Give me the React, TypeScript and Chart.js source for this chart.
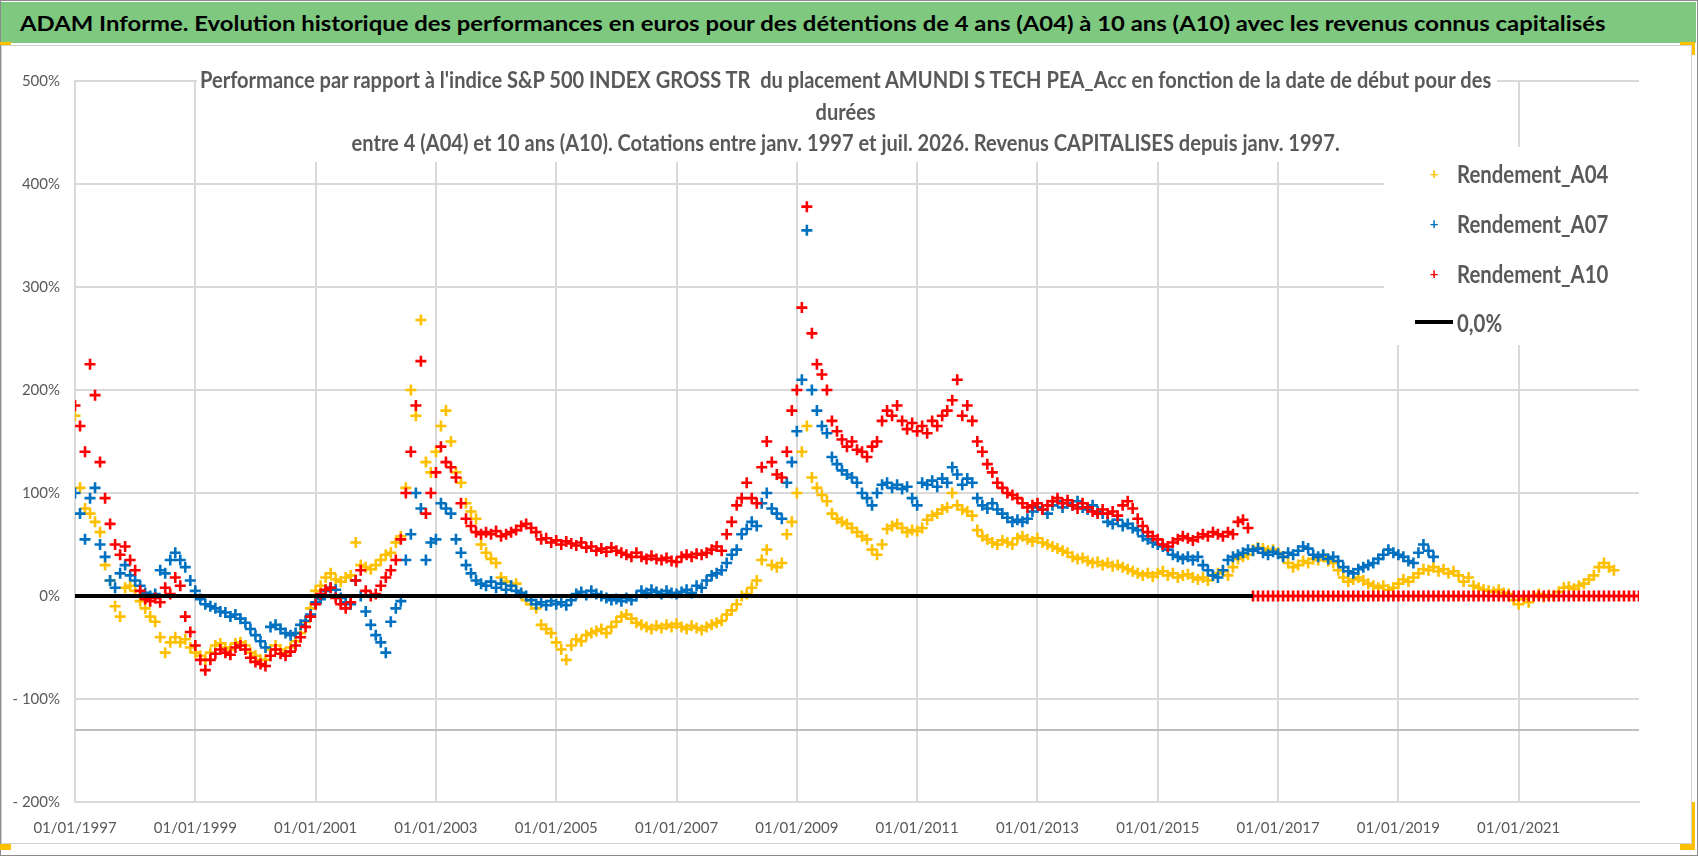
import { useEffect, useLayoutEffect, useRef } from "react";
import { Chart, registerables } from "chart.js";

Chart.register(...registerables);

// monthly observations, first one = janvier 1997
const FIRST_YEAR = 1997;
const tickYears = [1997, 1999, 2001, 2003, 2005, 2007, 2009, 2011, 2013, 2015, 2017, 2019, 2021];
const yTicks = [-200, -100, 0, 100, 200, 300, 400, 500];

const rendementA04 = [
  175, 105, 85, 80, 72, 62, 30, 15, -10, -20, 8, 10,
  5, -5, -12, -20, -25, -40, -55, -45, -40, -45, -42, -50,
  -55, -58, -62, -55, -48, -46, -50, -52, -46, -45, -48, -55,
  -58, -62, -62, -52, -48, -52, -55, -50, -44, -36, -25, -12,
  5, 10, 18, 22, 16, 14, 18, 20, 52, 30, 28, 26,
  30, 35, 40, 42, 52, 58, 105, 200, 175, 268, 130, 120,
  140, 165, 180, 150, 120, 110, 90, 82, 75, 50, 42, 36,
  32, 18, 14, 10, 12, 2, -4, -8, -12, -28, -32, -36,
  -45, -52, -62, -48, -42, -44, -38, -36, -34, -32, -36, -30,
  -25, -20, -18, -22, -26, -28, -30, -32, -29, -31, -28, -30,
  -27, -30, -32, -29, -31, -33, -30, -28, -26, -24, -18, -14,
  -8, 0, 2, 8, 15, 35, 45, 30, 28, 32, 60, 72,
  100, 140, 165, 115, 105, 98, 92, 80, 75, 72, 70, 66,
  62, 58, 55, 45, 40, 50, 65, 68, 70, 66, 62, 64,
  63, 66, 74, 78, 80, 84, 86, 100, 88, 84, 82, 78,
  64, 58, 55, 52, 50, 54, 52, 50, 56, 58, 55, 53,
  56, 52, 50, 48, 46, 44, 42, 38, 36, 37, 34, 32,
  33, 30, 32, 29, 30, 28, 26, 24, 22, 20, 22, 19,
  22, 24, 20, 22, 18, 20, 21, 18, 16, 18, 15, 20,
  22, 24, 20, 28, 36, 38, 40, 45, 47, 46, 44, 45,
  42, 38, 32, 28, 30, 34, 32, 36, 35, 38, 34, 32,
  25, 18, 14, 16, 18, 15, 12, 10, 8, 10, 6, 8,
  12, 16, 14, 18, 22, 26, 25, 28, 24, 26, 22, 24,
  20, 14, 18, 10, 8, 6, 5, 4, 6, 3, 2, -4,
  -8, -3, -6, 0, 2, -1, 1, 0, 4, 8, 9, 7,
  10, 12, 16, 20, 28, 32, 28, 25,
];

const rendementA07 = [
  100, 80, 55, 95, 105, 50, 38, 15, 8, 22, 30, 20,
  15, 10, 3, 0, 2, 25, 22, 35, 42, 35, 28, 15,
  5, -3, -8, -10, -12, -15, -16, -20, -18, -22, -26, -32,
  -38, -44, -50, -30, -28, -32, -36, -38, -36, -28, -24, -18,
  -6, -3, 5, 8, 6, -2, -6, -8, 15, 0, -15, -28,
  -38, -45, -55, -25, -12, -5, 35, 60, 100, 85, 35, 52,
  55, 90, 85, 80, 55, 42, 30, 22, 15, 12, 10, 14,
  8, 12, 6, 10, 5, 3, 0, -4, -8, -6, -9, -5,
  -8, -6, -9, -4, 2, 4, 1, 5, 2, 0, -2, -4,
  -3, -5, -2, -4, 0, 5, 3, 6, 4, 2, 5, 3,
  2, 4, 6, 3, 10, 8, 15, 20, 22, 25, 32, 40,
  45, 60, 65, 72, 68, 90, 100, 85, 80, 75, 110, 130,
  160, 210, 355, 200, 180, 165, 158, 135, 128, 122, 118, 115,
  110, 100, 95, 88, 100, 108, 110, 105, 108, 104, 106, 95,
  88, 110, 108, 112, 106, 114, 110, 125, 118, 108, 114, 110,
  95, 88, 85, 90, 84, 80, 76, 72, 74, 72, 75, 82,
  86, 84, 80, 88, 92, 86, 90, 88, 92, 86, 84, 88,
  82, 80, 72, 70, 74, 68, 70, 66, 64, 58, 55, 52,
  50, 48, 45, 40, 38, 36, 38, 35, 38, 30, 25, 20,
  18, 25, 35, 38, 40, 42, 45, 44, 46, 42, 40, 43,
  41, 38, 42, 40, 44, 48, 46, 40, 38, 40, 36, 38,
  34, 28, 24, 22, 26, 28, 30, 32, 36, 40, 45, 42,
  40, 38, 34, 32, 42, 50, 44, 38,
];

const rendementA10 = [
  185, 165, 140, 225, 195, 130, 95, 70, 50, 40, 48, 35,
  25, 5, -3, -5, -2, -6, 8, 2, 18, 10, -20, -35,
  -48, -62, -72, -62, -56, -52, -55, -57, -50, -48, -52, -60,
  -64, -66, -68, -58, -52, -56, -58, -54, -48, -40, -30, -20,
  -8, 2, 6, 8, -2, -8, -12, -6, 15, 25, 5, 0,
  2, 10, 18, 25, 35, 55, 100, 140, 185, 228, 80, 100,
  120, 145, 130, 125, 115, 90, 75, 68, 62, 60, 62, 60,
  63, 58, 60, 62, 64, 68, 70, 66, 62, 55, 56, 52,
  54, 50, 53, 51, 49, 52, 47, 48, 44, 46, 43, 47,
  44, 42, 40, 38, 42, 38, 36, 39, 36, 35, 37, 34,
  33, 38, 40, 38, 41, 40, 42, 45, 48, 44, 60, 72,
  88, 95, 110, 95, 90, 125, 150, 130, 118, 115, 140, 180,
  200, 280, 378, 255, 225, 215, 200, 170, 160, 152, 145, 150,
  142, 140, 135, 145, 150, 170, 180, 175, 185, 170, 162, 168,
  160, 165, 158, 170, 165, 175, 180, 190, 210, 175, 185, 170,
  150, 140, 128, 120, 110, 105, 100, 98, 95, 90, 86, 88,
  90, 84, 88, 92, 95, 90, 93, 88, 85, 90, 86, 82,
  80, 84, 80, 82, 78, 88, 92, 85, 75, 68, 62, 58,
  55, 50, 48, 52, 55, 58, 56, 54, 57, 60, 58, 62,
  60, 58, 62, 60, 72, 74, 66, 0, 0, 0, 0, 0,
  0, 0, 0, 0, 0, 0, 0, 0, 0, 0, 0, 0,
  0, 0, 0, 0, 0, 0, 0, 0, 0, 0, 0, 0,
  0, 0, 0, 0, 0, 0, 0, 0, 0, 0, 0, 0,
  0, 0, 0, 0, 0, 0, 0, 0, 0, 0, 0, 0,
  0, 0, 0, 0, 0, 0, 0, 0, 0, 0, 0, 0,
  0, 0, 0, 0, 0, 0, 0, 0, 0, 0, 0, 0,
  0,
];

// ligne 0,0% (s'arrete avec la serie A10) et ligne grise basse
const zeroLineYears = [1997, 2016.58];
const lowerLineLevel = -130;

const FONT = "Lato, 'Open Sans', sans-serif";
const GREY = "#595959";

const headerText =
  "ADAM Informe. Evolution historique des performances en euros pour des détentions de 4 ans (A04) à 10 ans (A10) avec les revenus connus capitalisés";
const titleLines = [
  "Performance par rapport à l'indice S&P 500 INDEX GROSS TR  du placement AMUNDI S TECH PEA_Acc en fonction de la date de début pour des",
  "durées",
  "entre 4 (A04) et 10 ans (A10). Cotations entre janv. 1997 et juil. 2026. Revenus CAPITALISES depuis janv. 1997.",
];
const legendItems = [
  { label: "Rendement_A04", color: "#FFC000" },
  { label: "Rendement_A07", color: "#0070C0" },
  { label: "Rendement_A10", color: "#FF0000" },
];
const zeroLegendLabel = "0,0%";

const toPoints = (values: number[]) =>
  values.map((v, i) => ({ x: FIRST_YEAR + i / 12, y: v }));

// fonds blancs du titre et de la legende (comme dans Excel, ils cachent la grille)
const boxesPlugin = {
  id: "excelBoxes",
  beforeDatasetsDraw(chart: any) {
    const c = chart.ctx;
    c.save();
    c.fillStyle = "#ffffff";
    c.fillRect(197, 62, 1300, 100);
    c.fillRect(1384, 147, 262, 198);
    c.restore();
  },
};

// resserre horizontalement des textes (Calibri absente) : le premier element
// doit prendre la largeur voulue, les autres recoivent le meme facteur
function useFitWidth(target: number) {
  const ref = useRef<HTMLDivElement>(null);
  useLayoutEffect(() => {
    const fit = () => {
      const root = ref.current;
      if (!root) return;
      const items = Array.from(root.querySelectorAll<HTMLElement>(".fit"));
      if (!items.length) return;
      items.forEach((el) => (el.style.transform = "none"));
      const w = items[0].offsetWidth;
      if (w > 0) items.forEach((el) => (el.style.transform = `scaleX(${target / w})`));
    };
    fit();
    if (document.fonts) document.fonts.ready.then(fit);
  }, [target]);
  return ref;
}

function Header() {
  const ref = useFitWidth(1585);
  return (
    <div ref={ref} style={{ position: "absolute", left: 20, top: 2, height: 41, display: "flex", alignItems: "center", whiteSpace: "pre" }}>
      <span className="fit" style={{ display: "inline-block", transformOrigin: "0 50%", fontWeight: "bold", fontSize: 21, color: "#000" }}>
        {headerText}
      </span>
    </div>
  );
}

function Title() {
  const ref = useFitWidth(1291);
  return (
    <div ref={ref} style={{ position: "absolute", left: 0, width: 1692, top: 64, display: "flex", justifyContent: "center" }}>
      <div
        className="fit"
        style={{
          display: "inline-block", transformOrigin: "50% 50%", textAlign: "center", whiteSpace: "pre",
          fontWeight: "bold", fontSize: 22, lineHeight: "31.5px", color: GREY,
        }}
      >
        {titleLines.join("\n")}
      </div>
    </div>
  );
}

function Legend() {
  const ref = useFitWidth(151);
  const labelStyle = { display: "inline-block", transformOrigin: "0 50%", fontSize: 24, fontWeight: "bold", color: GREY, whiteSpace: "pre" } as const;
  return (
    <div ref={ref}>
      {legendItems.map((it, i) => (
        <div key={it.label} style={{ position: "absolute", left: 1420, top: 148 + i * 50, height: 50, display: "flex", alignItems: "center" }}>
          <span style={{ width: 28, textAlign: "center", color: it.color, fontSize: 15, fontWeight: "bold" }}>+</span>
          <span className="fit" style={{ ...labelStyle, marginLeft: 9 }}>
            {it.label}
          </span>
        </div>
      ))}
      <div style={{ position: "absolute", left: 1415, top: 297, height: 50, display: "flex", alignItems: "center" }}>
        <span style={{ width: 38, height: 4, background: "#000" }} />
        <span className="fit" style={{ ...labelStyle, marginLeft: 4 }}>
          {zeroLegendLabel}
        </span>
      </div>
    </div>
  );
}

export default function App() {
  const canvasRef = useRef<HTMLCanvasElement>(null);

  useEffect(() => {
    if (!canvasRef.current) return;
    const ctx = canvasRef.current.getContext("2d");
    if (!ctx) return;

    const crossStyle = { pointStyle: "cross", pointRadius: 5.5, borderWidth: 2.6 };

    const chart = new Chart(ctx, {
      type: "scatter",
      data: {
        datasets: [
          {
            type: "line",
            label: "0,0%",
            data: zeroLineYears.map((x) => ({ x, y: 0 })),
            borderColor: "#000000",
            borderWidth: 4,
            pointRadius: 0,
            order: 0,
          },
          { label: "Rendement_A10", data: toPoints(rendementA10), borderColor: "#FF0000", backgroundColor: "#FF0000", ...crossStyle, order: 1 },
          { label: "Rendement_A07", data: toPoints(rendementA07), borderColor: "#0070C0", backgroundColor: "#0070C0", ...crossStyle, order: 2 },
          { label: "Rendement_A04", data: toPoints(rendementA04), borderColor: "#FFC000", backgroundColor: "#FFC000", ...crossStyle, order: 3 },
          {
            type: "line",
            label: "axe",
            data: [{ x: 1997, y: lowerLineLevel }, { x: 2023, y: lowerLineLevel }],
            borderColor: "#BFBFBF",
            borderWidth: 2,
            pointRadius: 0,
            order: 4,
          },
        ] as any,
      },
      options: {
        animation: false,
        responsive: false,
        events: [],
        layout: { padding: { left: 5, right: 59, top: 81, bottom: 14 } },
        plugins: {
          legend: { display: false },
          title: { display: false },
          tooltip: { enabled: false },
        },
        scales: {
          x: {
            type: "linear",
            min: 1997,
            max: 2023,
            afterBuildTicks: (s: any) => {
              s.ticks = tickYears.map((value) => ({ value }));
            },
            afterFit: (s: any) => {
              s.height = 40;
            },
            grid: { color: "#D9D9D9", lineWidth: 2, drawTicks: false },
            border: { color: "#D9D9D9", width: 2 },
            ticks: {
              color: GREY,
              font: { family: FONT, size: 15 },
              padding: 17,
              maxRotation: 0,
              autoSkip: false,
              callback: (v: any) => `01/01/${v}`,
            },
          },
          y: {
            min: -200,
            max: 500,
            afterBuildTicks: (s: any) => {
              s.ticks = yTicks.map((value) => ({ value }));
            },
            afterFit: (s: any) => {
              s.width = 70;
            },
            grid: { color: "#D9D9D9", lineWidth: 2, drawTicks: false },
            border: { color: "#D9D9D9", width: 2 },
            ticks: {
              color: GREY,
              font: { family: FONT, size: 15 },
              padding: 15,
              callback: (v: any) => (v < 0 ? `- ${Math.abs(v)}%` : `${v}%`),
            },
          },
        },
      },
      plugins: [boxesPlugin],
    });

    return () => {
      chart.destroy();
    };
  }, []);

  return (
    <div style={{ position: "fixed", left: 0, top: 0, width: 1698, height: 856, background: "#fff", overflow: "hidden", fontFamily: FONT }}>
      {/* cadre exterieur */}
      <div style={{ position: "absolute", left: 0, top: 0, width: 1696, height: 854, border: "1px solid #8c8c8c" }} />
      {/* bandeau vert */}
      <div style={{ position: "absolute", left: 1, top: 2, width: 1695, height: 41, background: "#7EC880" }} />
      <Header />
      {/* zone du graphique */}
      <div style={{ position: "absolute", left: 1, top: 45, width: 1689, height: 797, border: "1px solid #D0D0D0" }} />
      <canvas ref={canvasRef} width={1698} height={856} style={{ position: "absolute", left: 0, top: 0 }} />
      <Title />
      <Legend />
      {/* poignees de selection */}
      <div style={{ position: "absolute", left: 0, top: 42, width: 11, height: 3, background: "#FFC000" }} />
      <div style={{ position: "absolute", left: 1680, top: 42, width: 15, height: 3, background: "#FFC000" }} />
      <div style={{ position: "absolute", left: 1692, top: 42, width: 3, height: 13, background: "#FFC000" }} />
      <div style={{ position: "absolute", left: 1692, top: 802, width: 3, height: 48, background: "#FFC000" }} />
      <div style={{ position: "absolute", left: 1680, top: 844, width: 15, height: 6, background: "#FFC000" }} />
      <div style={{ position: "absolute", left: 0, top: 844, width: 11, height: 6, background: "#FFC000" }} />
    </div>
  );
}
